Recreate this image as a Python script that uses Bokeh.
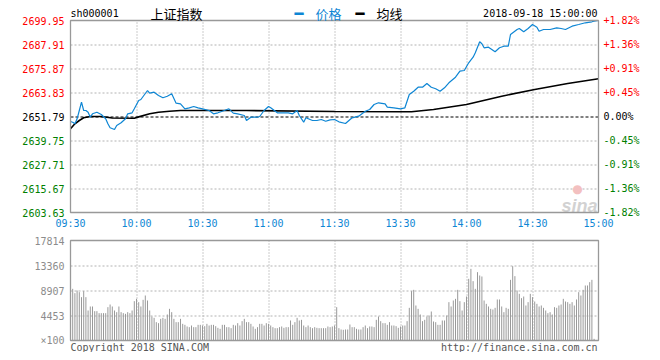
from bokeh.plotting import figure
from bokeh.models import Range1d, ColumnDataSource
from bokeh.core.properties import value
from bokeh.embed import file_html
from bokeh.resources import INLINE

# ---------------- data ----------------
symbol = "sh000001"
name = "上证指数"
stamp = "2018-09-18 15:00:00"
base_price = 2651.79
price_levels = [2699.95, 2687.91, 2675.87, 2663.83, 2651.79, 2639.75, 2627.71, 2615.67, 2603.63]
pct_labels = ["+1.82%", "+1.36%", "+0.91%", "+0.45%", "0.00%", "-0.45%", "-0.91%", "-1.36%", "-1.82%"]
time_ticks = [0, 30, 60, 90, 120, 150, 180, 210, 240]
time_labels = ["09:30", "10:00", "10:30", "11:00", "11:30", "13:30", "14:00", "14:30", "15:00"]

price_minutes = [0, 1, 2, 3, 4, 5, 6, 7, 8, 9, 10, 12, 14, 16, 17, 18, 20, 21, 23, 25, 26, 28, 29,
                 31, 32, 35, 36, 38, 40, 42, 44, 46, 48, 50, 52, 54, 56, 58, 60, 63, 65, 67, 69,
                 72, 74, 76, 79, 80, 82, 85, 86, 88, 90, 91, 94, 96, 99, 101, 103, 104, 106, 107,
                 110, 112, 114, 116, 118, 120, 122, 125, 128, 131, 134, 136, 138, 140, 143, 144,
                 147, 150, 152, 154, 156, 158, 160, 162, 164, 166, 168, 170, 172, 175, 177, 179,
                 181, 183, 184, 186, 187, 188, 190, 193, 195, 197, 199, 200, 203, 204, 206, 208,
                 210, 212, 213, 215, 218, 221, 223, 225, 228, 231, 234, 237, 238, 240]
price_values = [2649.28, 2648.93, 2648.13, 2650.64, 2654.80, 2658.96, 2654.80, 2654.80, 2653.95,
                2651.44, 2653.14, 2653.95, 2652.79, 2650.64, 2648.13, 2646.12, 2645.27, 2647.28,
                2648.63, 2650.64, 2653.14, 2653.65, 2655.65, 2659.82, 2660.32, 2664.83, 2663.48,
                2663.98, 2662.33, 2661.17, 2661.97, 2663.18, 2658.46, 2658.16, 2655.65, 2656.15,
                2656.81, 2656.15, 2655.65, 2654.80, 2653.14, 2653.65, 2654.45, 2655.65, 2653.45,
                2653.14, 2652.29, 2649.78, 2651.44, 2651.44, 2651.79, 2654.80, 2656.81, 2656.15,
                2653.65, 2653.65, 2653.65, 2653.14, 2654.80, 2652.29, 2648.93, 2651.14, 2649.78,
                2649.78, 2650.29, 2649.43, 2650.13, 2650.29, 2649.13, 2648.28, 2651.14, 2651.94,
                2654.45, 2655.30, 2657.81, 2658.66, 2658.16, 2656.46, 2656.15, 2655.65, 2656.15,
                2662.83, 2664.48, 2666.49, 2666.49, 2668.35, 2666.49, 2665.69, 2664.48, 2666.19,
                2668.70, 2671.51, 2674.52, 2674.87, 2678.73, 2681.54, 2683.75, 2689.26, 2688.26,
                2686.25, 2686.56, 2684.25, 2686.25, 2687.06, 2687.06, 2692.93, 2695.43, 2695.93,
                2694.28, 2695.93, 2697.94, 2696.59, 2694.58, 2695.43, 2695.43, 2696.29, 2695.93,
                2695.43, 2697.09, 2697.94, 2698.80, 2699.30, 2699.60, 2699.95]

avg_minutes = [0, 2, 4, 6, 9, 14, 19, 29, 31, 36, 40, 45, 50, 80, 120, 150, 155, 165, 180, 196, 211, 226, 240]
avg_values = [2645.62, 2648.13, 2649.78, 2651.14, 2651.79, 2651.79, 2651.00, 2650.90, 2651.60,
              2653.14, 2653.95, 2654.45, 2654.80, 2654.80, 2654.30, 2654.15, 2654.15, 2655.30,
              2657.81, 2661.97, 2665.34, 2668.35, 2670.70]

# volume in units of 100 shares (one bar per minute)
volume = [
    14251, 9204, 8432, 8907, 8610, 7719, 8788, 7719, 5344, 6057,
    6057, 5225, 5225, 4869, 4869, 4869, 4869, 5938, 6413, 6057,
    5344, 5047, 6057, 5047, 4869, 4750, 5047, 4869, 5344, 7007,
    7422, 6829, 6057, 7244, 8016, 7126, 5344, 4275, 4038, 3266,
    3088, 3860, 4038, 3860, 4632, 5641, 5047, 3860, 3266, 3266,
    3860, 2969, 2791, 2494, 2375, 2672, 2375, 2375, 2791, 2791,
    2672, 2553, 2969, 2672, 2791, 2791, 2553, 2256, 2078, 2791,
    2791, 2375, 2375, 2197, 2791, 2672, 3088, 2672, 3444, 3860,
    3266, 3266, 2969, 2494, 2078, 2375, 2969, 2969, 2672, 3088,
    2969, 2672, 2375, 2197, 2197, 2375, 2494, 2256, 2375, 2375,
    3563, 2791, 3266, 4038, 3563, 3682, 2672, 2375, 2672, 2375,
    2197, 2375, 2256, 2197, 2197, 2197, 2197, 2494, 2375, 2494,
    2672,
    5938, 2197, 1960, 1900, 1960, 1960, 2850, 2375, 2375, 2078,
    1960, 1960, 2375, 2672, 2197, 2494, 2494, 2375, 3682, 4275,
    3444, 3088, 3088, 2791, 3266, 2672, 2672, 2553, 2256, 2494,
    2672, 2672, 3444, 5819, 8788, 9026, 6235, 5641, 4632, 3444,
    3682, 4275, 4454, 5166, 3385, 3266, 2791, 2791, 3563, 3563,
    4454, 6829, 6057, 7126, 7422, 9026, 7007, 5344, 6829, 7838,
    10985, 12767, 10570, 9204, 12173, 11579, 11401, 7126, 6532, 6057,
    5641, 5522, 5819, 7304, 7304, 6057, 5047, 5819, 5641, 10807,
    13242, 11460, 8907, 8313, 7541, 7838, 6235, 6829, 8313, 7719,
    6947, 6532, 6057, 6235, 5819, 5344, 4869, 5047, 4632, 5938,
    5819, 6235, 6413, 7422, 6947, 6829, 6532, 6829, 6235, 7304,
    8610, 8016, 9026, 9798, 9798, 10392, 10807, 297, 0, 0,
]
vol_levels = [17814, 13360, 8907, 4453, 0]
vol_labels = ["17814", "13360", "8907", "4453", "×100"]

# ---------------- layout (pixels on the page) ----------------
W, H = 652, 352
PX_L, PX_R = 70, 598          # plot frame left / right
PX_T, PX_B = 20, 212          # price panel top / bottom
PV_T, PV_B = 240, 340         # volume panel top / bottom

BLUE = "#0e86d4"
RED = "#ff0000"
GREEN = "#008000"
GRID = "#999999"
HGRID = "#b2b2b2"
BORDER = "#999999"
MONO = "DejaVu Sans Mono"
CJK = "Noto Sans CJK SC"

t0, t1 = time_ticks[0], time_ticks[-1]
pmax, pmin = price_levels[0], price_levels[-1]
vmax = vol_levels[0]

xs = (t1 - t0) / (PX_R - PX_L)          # minutes per pixel
ps = (pmax - pmin) / (PX_B - PX_T)      # price per pixel
vs = vmax / (PV_B - PV_T)               # volume per pixel

x_range = Range1d(t0 - PX_L * xs, t1 + (W - PX_R) * xs)
y_range = Range1d(pmin - (H - PX_B) * ps, pmax + PX_T * ps)
vol_range = Range1d(0 - (H - PV_B) * vs, vmax + PV_T * vs)

hx, hp, hv = 0.5 * xs, 0.5 * ps, 0.5 * vs   # half-pixel nudges for crisp 1px rules

p = figure(width=W, height=H, x_range=x_range, y_range=y_range,
           output_backend="svg", toolbar_location=None,
           x_axis_location=None, y_axis_location=None, min_border=0,
           outline_line_color=None, background_fill_color="white",
           border_fill_color="white")
p.extra_y_ranges = {"vol": vol_range}
p.grid.visible = False

def level_color(v):
    if abs(v - base_price) < 1e-6:
        return "black"
    return RED if v > base_price else GREEN

inner_t = time_ticks[1:-1]
inner_p = [v for v in price_levels[1:-1] if abs(v - base_price) > 1e-6]
vinner = vol_levels[1:-1]

# ---- price panel grid ----
p.multi_line(xs=[[t + hx, t + hx] for t in inner_t], ys=[[pmin, pmax] for t in inner_t],
             line_color=GRID, line_dash="1 2", line_width=1)
p.multi_line(xs=[[t0, t1] for v in inner_p], ys=[[v - hp, v - hp] for v in inner_p],
             line_color=HGRID, line_dash="2 2", line_width=1)
p.multi_line(xs=[[t0, t1]], ys=[[base_price - hp, base_price - hp]],
             line_color="black", line_dash="3 2", line_width=1)

# ---- watermark ----
p.text(x=[t1], y=[pmin], text=["sina"], x_offset=-1, y_offset=-7,
       text_font=value("Liberation Sans"), text_font_size="18px",
       text_font_style="bold italic", text_align="right", text_baseline="alphabetic",
       text_color="#d2d2d2")
p.text(x=[t1], y=[pmin], text=["●"], x_offset=-21, y_offset=-24,
       text_font=value("DejaVu Sans"), text_font_size="12px", text_align="center",
       text_baseline="middle", text_color="#f3c0c0")

# ---- price lines ----
p.line(avg_minutes, avg_values, line_color="black", line_width=1.6)
p.line(price_minutes, price_values, line_color=BLUE, line_width=1.2)

p.quad(left=[t0], right=[t1], bottom=[pmin], top=[pmax], fill_alpha=0,
       line_color=BORDER, line_width=1.3)

# ---- price labels ----
left_src = ColumnDataSource(dict(
    x=[t0] * len(price_levels), y=price_levels,
    text=["%.2f" % v for v in price_levels],
    color=[level_color(v) for v in price_levels]))
p.text(x="x", y="y", text="text", source=left_src, text_color="color", x_offset=-6,
       text_align="right", text_baseline="middle", text_font=value(MONO), text_font_size="10px")
right_src = ColumnDataSource(dict(
    x=[t1] * len(price_levels), y=list(price_levels), text=pct_labels,
    color=[level_color(v) for v in price_levels]))
p.text(x="x", y="y", text="text", source=right_src, text_color="color", x_offset=5,
       text_align="left", text_baseline="middle", text_font=value(MONO), text_font_size="10px")
time_src = ColumnDataSource(dict(x=time_ticks, y=[pmin] * len(time_ticks), text=time_labels))
p.text(x="x", y="y", text="text", source=time_src, text_color=BLUE, y_offset=11,
       text_align="center", text_baseline="middle", text_font=value(MONO), text_font_size="10px")

# ---- header ----
hdr = dict(y=[pmax], y_offset=-7, text_baseline="middle")
p.text(x=[t0], text=[symbol], text_font=value(MONO), text_font_size="10px",
       text_align="left", text_color="black", **hdr)
p.text(x=[t0], text=[name], x_offset=80, text_font=value(CJK), text_font_size="13px",
       text_align="left", text_color="black", **hdr)
p.text(x=[t0], text=["━"], x_offset=224, text_font=value("DejaVu Sans"), text_font_size="15px",
       text_align="left", text_color=BLUE, **hdr)
p.text(x=[t0], text=["价格"], x_offset=245, text_font=value(CJK), text_font_size="13px",
       text_align="left", text_color=BLUE, **hdr)
p.text(x=[t0], text=["━"], x_offset=285, text_font=value("DejaVu Sans"), text_font_size="15px",
       text_align="left", text_color="black", **hdr)
p.text(x=[t0], text=["均线"], x_offset=306, text_font=value(CJK), text_font_size="13px",
       text_align="left", text_color="black", **hdr)
p.text(x=[t1], text=[stamp], x_offset=-1, text_font=value(MONO), text_font_size="10px",
       text_align="right", text_color="black", **hdr)

# ---- volume panel ----
p.multi_line(xs=[[t + hx, t + hx] for t in inner_t], ys=[[0, vmax] for t in inner_t],
             line_color=GRID, line_dash="1 2", line_width=1, y_range_name="vol")
p.multi_line(xs=[[t0, t1] for v in vinner], ys=[[v - hv, v - hv] for v in vinner],
             line_color=HGRID, line_dash="2 2", line_width=1, y_range_name="vol")
minutes = list(range(len(volume)))
bar_src = ColumnDataSource(dict(x0=minutes, x1=list(minutes), y0=[0] * len(volume), y1=volume))
p.segment(x0="x0", y0="y0", x1="x1", y1="y1", source=bar_src,
          line_color="#999999", line_width=1, y_range_name="vol")
p.quad(left=[t0], right=[t1], bottom=[0], top=[vmax], fill_alpha=0,
       line_color=BORDER, line_width=1.3, y_range_name="vol")

vol_src = ColumnDataSource(dict(x=[t0] * len(vol_levels), y=vol_levels, text=vol_labels))
p.text(x="x", y="y", text="text", source=vol_src, text_color="#8c8c8c", x_offset=-6,
       text_align="right", text_baseline="middle", text_font=value(MONO),
       text_font_size="10px", y_range_name="vol")
p.text(x=[t0], y=[0], text=["Copyright 2018 SINA.COM"], y_offset=7, text_font=value(MONO),
       text_font_size="10px", text_baseline="middle", text_align="left",
       text_color="#555555", y_range_name="vol")
p.text(x=[t1], y=[0], text=["http://finance.sina.com.cn"], x_offset=-1, y_offset=7,
       text_font=value(MONO), text_font_size="10px", text_baseline="middle",
       text_align="right", text_color="#555555", y_range_name="vol")

open("out.html", "w").write(file_html(p, INLINE))
